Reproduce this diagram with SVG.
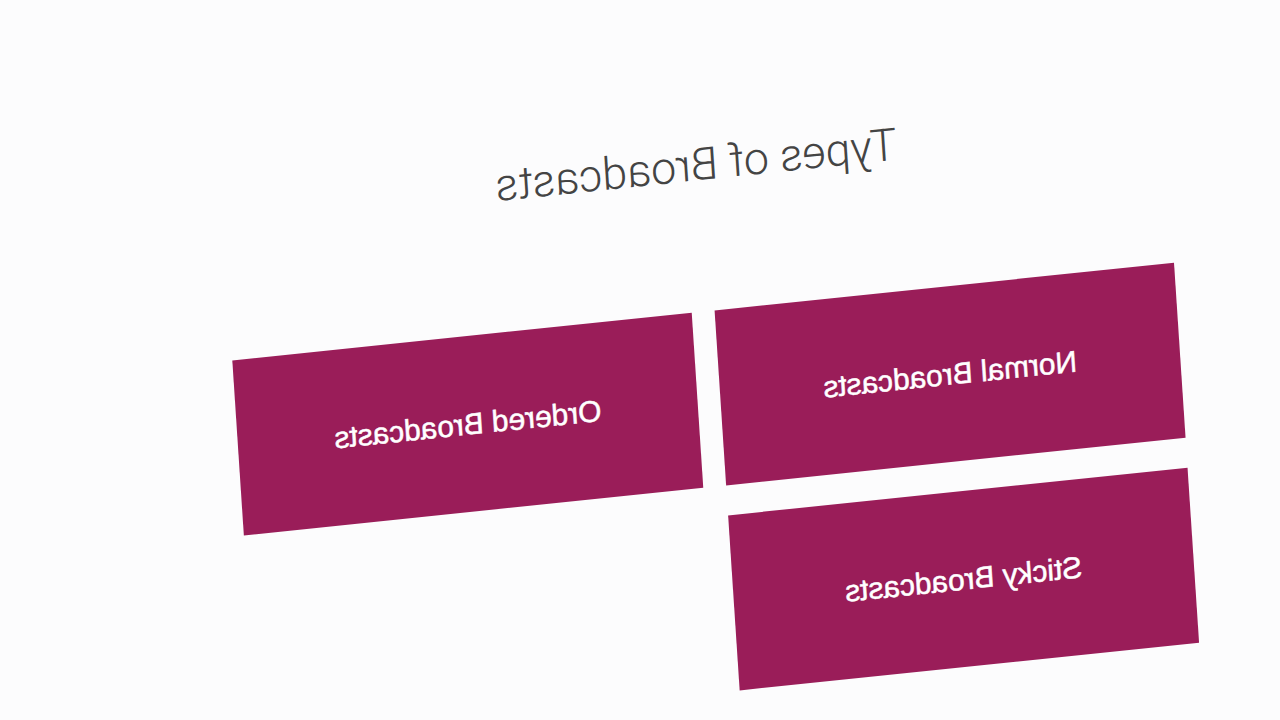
<svg xmlns="http://www.w3.org/2000/svg" width="1280" height="720" viewBox="0 0 1280 720">
  <style>
    .box { fill: #9a1d59; }
    .label { font-family: "Liberation Sans", Arial, sans-serif; font-size: 30px; fill: #ffffff; stroke: #ffffff; stroke-width: 0.5px; text-anchor: middle; }
    .title { font-family: Roboto, "Liberation Sans", sans-serif; font-weight: 300; font-size: 45px; fill: #444444; text-anchor: middle; }
  </style>
  <rect x="0" y="0" width="1280" height="720" fill="#fcfcfd"/>
  <g transform="matrix(-0.9944,0.1032,0.066,1,1174,262.7)">
    <g id="title">
      <text class="title" x="471" y="-131">Types of Broadcasts</text>
    </g>
    <g id="connectors"></g>
    <g id="normal">
      <rect class="box" x="0" y="0" width="462" height="175"/>
      <text class="label" x="231" y="98">Normal Broadcasts</text>
    </g>
    <g id="ordered">
      <rect class="box" x="485" y="0" width="462" height="175"/>
      <text class="label" x="716" y="98">Ordered Broadcasts</text>
    </g>
    <g id="sticky">
      <rect class="box" x="0" y="205" width="462" height="175"/>
      <text class="label" x="231" y="303">Sticky Broadcasts</text>
    </g>
  </g>
</svg>
